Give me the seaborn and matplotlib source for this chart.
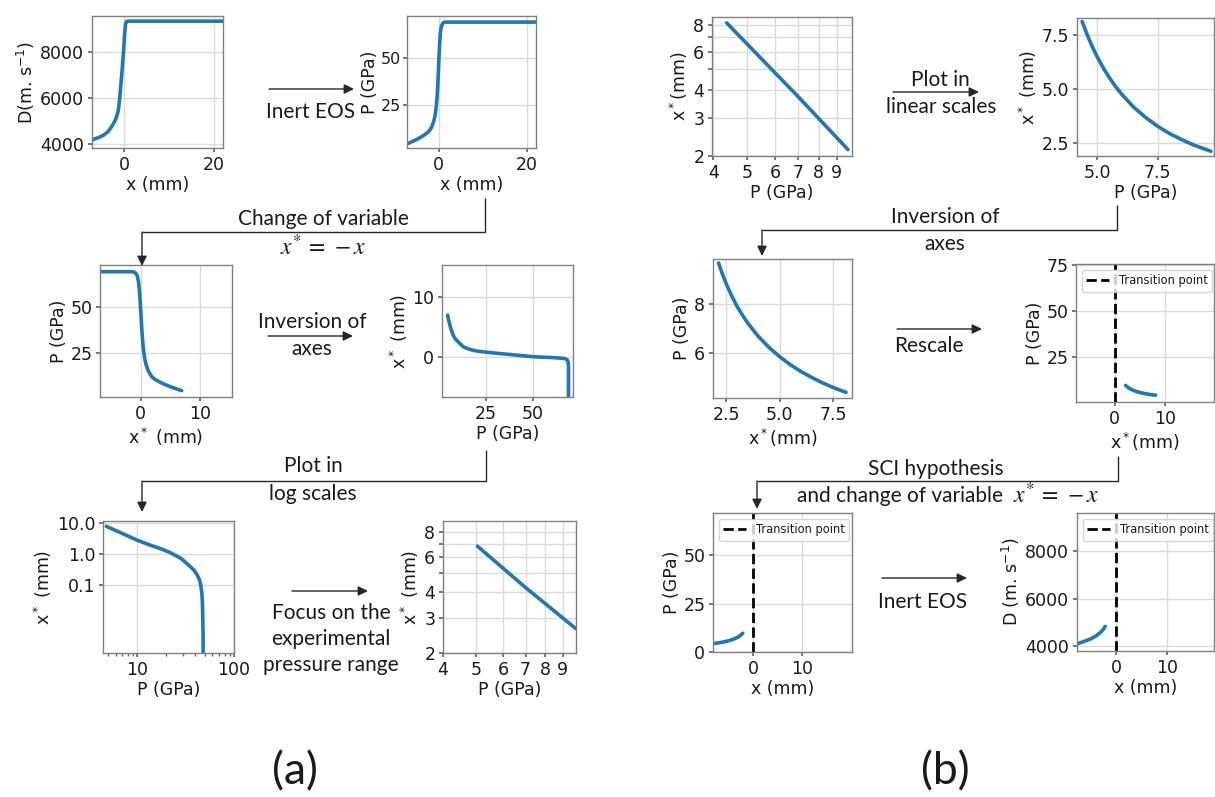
import matplotlib
matplotlib.use("Agg")
import matplotlib.pyplot as plt
from matplotlib.ticker import NullLocator, NullFormatter, FixedLocator
import seaborn as sns

W, H = 1215, 797
BLUE = "#1f77b4"

# ---------------- data ----------------
# (a) row 1: detonation velocity and pressure profiles vs x
a1_x = [-7.5, -6.9, -5.8, -4.6, -3.6, -3.1, -2.5, -2.0, -1.6, -1.3, -1.0, -0.6,
        -0.15, 0.1, 0.3, 0.5, 0.8, 22.5]
a1_D = [4150, 4200, 4280, 4390, 4540, 4680, 4850, 5040, 5250, 5480, 6000, 6900,
        8000, 8800, 9200, 9320, 9340, 9340]
a2_x = [-7.5, -6.9, -6.0, -4.9, -4.0, -3.2, -2.5, -2.0, -1.6, -1.2, -0.9, -0.7,
        -0.5, -0.35, -0.2, -0.05, 0.1, 0.25, 0.4, 0.6, 0.9, 1.3, 22.5]
a2_P = [4.7, 5.0, 6.0, 7.2, 8.4, 9.6, 10.8, 12.0, 13.6, 16.0, 18.8, 21.5,
        25.5, 30.0, 36.0, 44.0, 52.0, 59.0, 63.5, 66.5, 68.0, 68.7, 68.7]
# (a) row 2: after change of variable / inversion of axes
a3_x = [-7.5, -1.3, -0.9, -0.6, -0.4, -0.25, -0.1, 0.05, 0.2, 0.35, 0.5, 0.7,
        0.9, 1.2, 1.6, 2.0, 2.5, 3.2, 4.0, 4.9, 6.0, 6.9]
a3_P = [68.7, 68.7, 68.0, 66.5, 63.5, 59.0, 52.0, 44.0, 36.0, 30.0, 25.5, 21.5,
        18.8, 16.0, 13.6, 12.0, 10.8, 9.6, 8.4, 7.2, 6.0, 5.0]
a4_P = [4.8, 5.2, 5.6, 6.0, 6.6, 7.2, 7.8, 8.6, 9.6, 11.0, 13.1, 15.5, 18.0,
        21.0, 23.7, 30.0, 40.0, 50.9, 60.0, 66.9, 68.3, 68.8, 69.0, 69.0]
a4_x = [6.95, 6.3, 5.75, 5.28, 4.6, 4.05, 3.6, 3.1, 2.75, 2.3, 1.67, 1.35, 1.1,
        0.93, 0.83, 0.62, 0.32, 0.0, -0.12, -0.28, -0.5, -0.9, -1.6, -8.0]
# (a) row 3: log scales, then experimental pressure range
a5_P = [4.82, 7.0, 10.0, 13.0, 17.4, 22.0, 28.1, 33.0, 38.4, 41.5, 44.1, 45.5,
        46.6, 47.2, 47.5, 47.8, 48.0, 48.0]
a5_x = [7.8, 4.6, 2.77, 2.02, 1.47, 1.09, 0.72, 0.47, 0.30, 0.21, 0.142, 0.09,
        0.053, 0.025, 0.012, 0.005, 0.002, 0.0004]
a6_P = [5.05, 7.0, 9.85]
a6_x = [6.8, 4.23, 2.64]
# (b) panels
b1_P = [4.37, 7.0, 9.69]
b1_x = [8.15, 3.73, 2.14]
b2_P = [4.37, 4.6, 4.8, 5.0, 5.25, 5.5, 5.75, 6.0, 6.5, 7.0, 7.5, 8.0, 8.5, 9.0, 9.69]
b2_x = [8.15, 7.48, 6.96, 6.5, 5.99, 5.54, 5.14, 4.79, 4.18, 3.7, 3.29, 2.95, 2.67, 2.42, 2.14]
b3_x = [2.14, 2.3, 2.5, 2.75, 3.0, 3.25, 3.5, 4.0, 4.5, 5.0, 5.5, 6.0, 6.5, 7.0, 7.5, 8.1]
b3_P = [9.69, 9.28, 8.83, 8.35, 7.92, 7.56, 7.23, 6.68, 6.23, 5.85, 5.52, 5.24,
        5.0, 4.78, 4.59, 4.39]
b5_x = [-8.1, -7.5, -7.0, -6.5, -6.0, -5.5, -5.0, -4.5, -4.0, -3.5, -3.25, -3.0,
        -2.75, -2.5, -2.3, -2.14]
b5_P = [4.39, 4.59, 4.78, 5.0, 5.24, 5.52, 5.85, 6.23, 6.68, 7.23, 7.56, 7.92,
        8.35, 8.83, 9.28, 9.69]
b6_x = [-8.1, -7.0, -6.0, -5.0, -4.0, -3.5, -3.0, -2.5, -2.14]
b6_D = [4060, 4140, 4220, 4300, 4420, 4500, 4590, 4710, 4830]
transition_x = 0

log_ticks_x = [4, 5, 6, 7, 8, 9]
log_labels_x = ["4", "5", "6", "7", "8", "9"]
log_ticks_y = [2, 3, 4, 5, 6, 7, 8]
log_labels_y = ["2", "3", "4", "", "6", "", "8"]

# ---------------- style ----------------
sns.set_theme(style="whitegrid", rc={
    "axes.edgecolor": "0.5", "axes.linewidth": 1.0,
    "grid.color": "0.86", "grid.linewidth": 1.0,
    "xtick.bottom": True, "ytick.left": True,
    "xtick.major.size": 3, "ytick.major.size": 3,
    "xtick.minor.size": 1.8, "ytick.minor.size": 1.8,
    "xtick.color": "0.4", "ytick.color": "0.4",
    "xtick.labelcolor": "0.1", "ytick.labelcolor": "0.1",
    "xtick.labelsize": 12.5, "ytick.labelsize": 12.5,
    "axes.labelsize": 12.5, "axes.labelcolor": "0.1",
    "text.color": "0.1", "xtick.major.pad": 2.5, "ytick.major.pad": 2.5,
    "axes.labelpad": 2.0,
})
plt.rcParams["font.family"] = ["DejaVu Sans"]
plt.rcParams["mathtext.fontset"] = "dejavusans"

fig = plt.figure(figsize=(W / 100, H / 100), dpi=100)
fig.patch.set_facecolor("white")


def add_ax(l, t, r, b):
    return fig.add_axes([l / W, 1 - b / H, (r - l) / W, (b - t) / H])


def curve(ax, x, y):
    sns.lineplot(x=x, y=y, ax=ax, color=BLUE, linewidth=2.6,
                 estimator=None, sort=False)


def transition(ax):
    ax.axvline(transition_x, color="black", ls="--", lw=2, label="Transition point")
    ax.legend(loc="upper left", fontsize=8.3, handlelength=2, borderpad=0.4,
              framealpha=0.8)


def loglog_focus(ax):
    ax.set_xscale("log")
    ax.set_yscale("log")
    ax.xaxis.set_major_locator(FixedLocator(log_ticks_x))
    ax.yaxis.set_major_locator(FixedLocator(log_ticks_y))
    ax.set_xticklabels(log_labels_x)
    ax.set_yticklabels(log_labels_y)
    for a in (ax.xaxis, ax.yaxis):
        a.set_minor_locator(NullLocator())
        a.set_minor_formatter(NullFormatter())


# ---- (a) ----
ax = add_ax(92, 16, 223, 148)
curve(ax, a1_x, a1_D)
ax.set_xlim(-7.2, 22.1); ax.set_ylim(3830, 9565)
ax.set_xticks([0, 20]); ax.set_yticks([4000, 6000, 8000])
ax.set_xlabel("x (mm)"); ax.set_ylabel("D(m. s$^{-1}$)")

ax = add_ax(407, 16, 536, 148)
curve(ax, a2_x, a2_P)
ax.set_xlim(-7.2, 22.1); ax.set_ylim(2.6, 71.9)
ax.set_xticks([0, 20]); ax.set_yticks([25, 50])
ax.tick_params(axis="y", labelsize=11.5, pad=1.5)
ax.set_xlabel("x (mm)"); ax.set_ylabel("P (GPa)", labelpad=1.0)

ax = add_ax(100, 265, 232, 397)
curve(ax, a3_x, a3_P)
ax.set_xlim(-6.9, 15.4); ax.set_ylim(1.6, 72.3)
ax.set_xticks([0, 10]); ax.set_yticks([25, 50])
ax.set_xlabel("x$^*$ (mm)"); ax.set_ylabel("P (GPa)")

ax = add_ax(442, 265, 573, 397)
curve(ax, a4_P, a4_x)
ax.set_xlim(1.8, 71.4); ax.set_ylim(-6.7, 15.3)
ax.set_xticks([25, 50]); ax.set_yticks([0, 10])
ax.set_xlabel("P (GPa)"); ax.set_ylabel("x$^*$ (mm)")

ax = add_ax(103, 521, 234, 653)
curve(ax, a5_P, a5_x)
ax.set_xscale("log"); ax.set_yscale("log")
ax.set_xlim(4.45, 100); ax.set_ylim(6e-4, 11.6)
ax.xaxis.set_major_locator(FixedLocator([10, 100]))
ax.set_xticklabels(["10", "100"])
ax.xaxis.set_minor_formatter(NullFormatter())
ax.yaxis.set_major_locator(FixedLocator([0.1, 1, 10]))
ax.set_yticklabels(["0.1", "1.0", "10.0"])
ax.yaxis.set_minor_locator(NullLocator())
ax.set_xlabel("P (GPa)"); ax.set_ylabel("x$^*$ (mm)")

ax = add_ax(443, 521, 576, 653)
curve(ax, a6_P, a6_x)
loglog_focus(ax)
ax.set_xlim(4.0, 9.85); ax.set_ylim(2.0, 9.07)
ax.set_xlabel("P (GPa)"); ax.set_ylabel("x$^*$ (mm)")

# ---- (b) ----
ax = add_ax(712, 17, 852, 156)
curve(ax, b1_P, b1_x)
loglog_focus(ax)
ax.set_xlim(3.97, 9.95); ax.set_ylim(2.0, 8.67)
ax.set_xlabel("P (GPa)"); ax.set_ylabel("x$^*$(mm)")

ax = add_ax(1077, 18, 1214, 156)
curve(ax, b2_P, b2_x)
ax.set_xlim(4.16, 9.82); ax.set_ylim(1.92, 8.31)
ax.set_xticks([5.0, 7.5]); ax.set_yticks([2.5, 5.0, 7.5])
ax.set_xticklabels(["5.0", "7.5"]); ax.set_yticklabels(["2.5", "5.0", "7.5"])
ax.set_xlabel("P (GPa)"); ax.set_ylabel("x$^*$ (mm)")

ax = add_ax(713, 259, 852, 398)
curve(ax, b3_x, b3_P)
ax.set_xlim(1.88, 8.38); ax.set_ylim(4.16, 9.85)
ax.set_xticks([2.5, 5.0, 7.5]); ax.set_yticks([6, 8])
ax.set_xticklabels(["2.5", "5.0", "7.5"])
ax.set_xlabel("x$^*$(mm)"); ax.set_ylabel("P (GPa)")

ax = add_ax(1076, 264, 1214, 402)
curve(ax, b3_x, b3_P)
transition(ax)
ax.set_xlim(-7.7, 19.7); ax.set_ylim(0.7, 75.5)
ax.set_xticks([0, 10]); ax.set_yticks([25, 50, 75])
ax.set_xlabel("x$^*$(mm)"); ax.set_ylabel("P (GPa)")

ax = add_ax(713, 513, 852, 652)
curve(ax, b5_x, b5_P)
transition(ax)
ax.set_xlim(-8.2, 20.1); ax.set_ylim(0, 72)
ax.set_xticks([0, 10]); ax.set_yticks([0, 25, 50])
ax.set_xlabel("x (mm)"); ax.set_ylabel("P (GPa)")

ax = add_ax(1077, 513, 1214, 651)
curve(ax, b6_x, b6_D)
transition(ax)
ax.set_xlim(-7.7, 19.3); ax.set_ylim(3790, 9613)
ax.set_xticks([0, 10]); ax.set_yticks([4000, 6000, 8000])
ax.set_xlabel("x (mm)"); ax.set_ylabel("D (m. s$^{-1}$)")

# ---------------- flow annotations (overlay in pixel coordinates) ----------------
ov = fig.add_axes([0, 0, 1, 1], zorder=-1)
ov.set_xlim(0, W); ov.set_ylim(H, 0); ov.axis("off")
LC = "0.15"
TF = "Lato"
FS = 15


def seg(pts):
    xs = [p[0] for p in pts]; ys = [p[1] for p in pts]
    ov.plot(xs, ys, color=LC, lw=1.0, solid_capstyle="butt")


def arrow(x1, y1, x2, y2):
    ov.annotate("", xy=(x2, y2), xytext=(x1, y1),
                arrowprops=dict(arrowstyle="-|>,head_length=0.45,head_width=0.22",
                                color=LC, lw=1.0, shrinkA=0, shrinkB=0,
                                mutation_scale=13))


def txt(x, y, s, size=FS, **kw):
    ov.text(x, y, s, ha="center", va="center", fontsize=size, family=TF,
            color="0.1", math_fontfamily="stix", **kw)


MATH = r"$x^{*}\,=\,-x$"

# (a)
arrow(269, 89, 354, 89)
txt(311, 112, "Inert EOS")
seg([(485, 198), (485, 232), (142, 232)])
arrow(142, 232, 142, 266)
txt(323, 219, "Change of variable")
txt(323, 246, MATH, size=17)
txt(312, 322, "Inversion of")
arrow(268, 336, 353, 336)
txt(312, 349, "axes")
seg([(486, 450), (486, 481), (142, 481)])
arrow(142, 481, 142, 512)
txt(313, 466, "Plot in")
txt(313, 494, "log scales")
arrow(292, 591, 368, 591)
txt(331, 613, "Focus on the")
txt(331, 639, "experimental")
txt(331, 665, "pressure range")
txt(295, 772, "(a)", size=32)

# (b)
txt(940, 80, "Plot in")
arrow(893, 92, 979, 92)
txt(941, 107, "linear scales")
seg([(1117, 205), (1117, 230), (762, 230)])
arrow(762, 230, 762, 256)
txt(945, 217, "Inversion of")
txt(945, 244, "axes")
arrow(897, 329, 982, 329)
txt(929, 346, "Rescale")
seg([(1118, 456), (1118, 481), (757, 481)])
arrow(757, 481, 757, 509)
txt(936, 469, "SCI hypothesis")
ov.text(797, 496, "and change of variable", ha="left", va="center", fontsize=FS,
        family=TF, color="0.1")
txt(1056, 494, MATH, size=17)
arrow(882, 578, 967, 578)
txt(923, 602, "Inert EOS")
txt(945, 772, "(b)", size=32)

fig.savefig("out.png", dpi=100, facecolor="white")
